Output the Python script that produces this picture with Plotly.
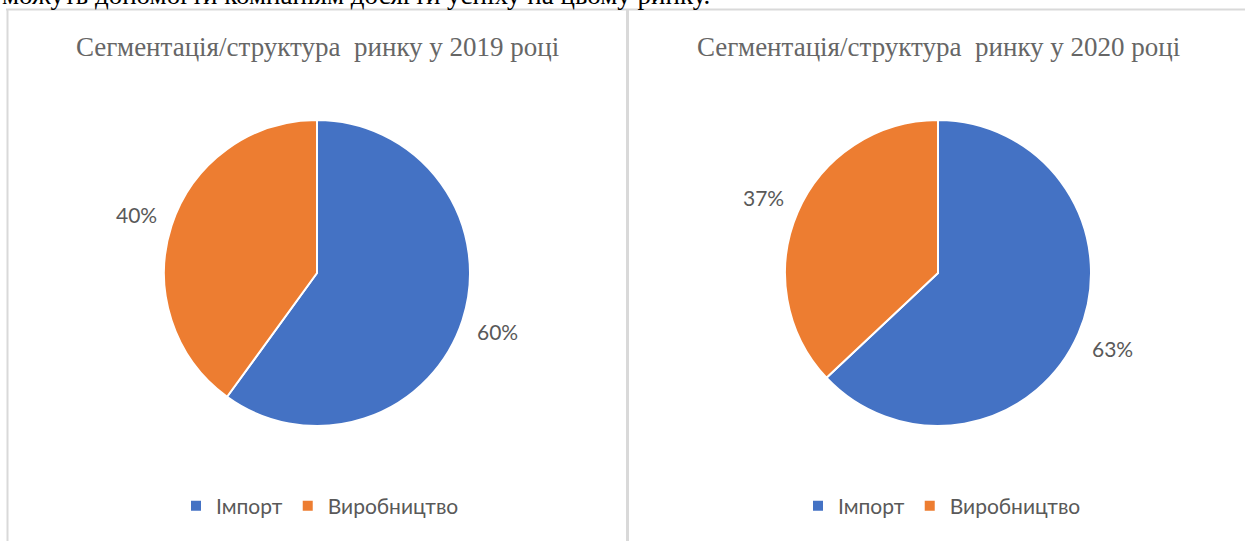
import math
import plotly.graph_objects as go

categories = ["Імпорт", "Виробництво"]
values_2019 = [60, 40]
values_2020 = [63, 37]
titles = ["Сегментація/структура  ринку у 2019 році", "Сегментація/структура  ринку у 2020 році"]
top_text = "можуть допомогти компаніям досягти успіху на цьому ринку."

W, H = 1245, 541
colors = ["#4472C4", "#ED7D31"]
R = 153
centers = [(317, 273), (938, 273)]
label_r = 190

fig = go.Figure()
annotations = []
for i, (vals, (cx, cy), title) in enumerate(zip([values_2019, values_2020], centers, titles)):
    # zero-width space suffix keeps the second pie's legend entries separate from the first
    labels = categories if i == 0 else [c + "\u200b" for c in categories]
    fig.add_trace(go.Pie(
        labels=labels, values=vals, sort=False, direction="clockwise", rotation=0,
        marker=dict(colors=colors, line=dict(color="white", width=2)),
        textinfo="none", hoverinfo="label+percent",
        domain=dict(x=[(cx - R) / W, (cx + R) / W], y=[(H - cy - R) / H, (H - cy + R) / H]),
        legend="legend" if i == 0 else "legend2",
        showlegend=True,
    ))
    total = sum(vals)
    start = 0.0
    for v in vals:
        frac = v / total
        mid = (start + frac / 2) * 2 * math.pi
        start += frac
        lx = cx + label_r * math.sin(mid)
        ly = cy - label_r * math.cos(mid)
        annotations.append(dict(
            x=lx / W, y=1 - ly / H, xref="paper", yref="paper",
            text=f"{round(frac * 100)}%", showarrow=False,
            font=dict(family="Lato", size=21, color="#595959"),
            xanchor="center", yanchor="middle",
        ))
    annotations.append(dict(
        x=cx / W, y=1 - 47 / H, xref="paper", yref="paper", text=title, showarrow=False,
        font=dict(family="Liberation Serif", size=27, color="#666666"),
        xanchor="center", yanchor="middle",
    ))

annotations.append(dict(
    x=0, y=1 - 12 / H, xref="paper", yref="paper", text=top_text, showarrow=False,
    font=dict(family="Liberation Serif", size=27, color="#000000"),
    xanchor="left", yanchor="bottom",
))

shapes = [
    dict(type="line", xref="paper", yref="paper", x0=6 / W, x1=1, y0=1 - 9.5 / H, y1=1 - 9.5 / H,
         line=dict(color="#D9D9D9", width=2)),
    dict(type="line", xref="paper", yref="paper", x0=7.5 / W, x1=7.5 / W, y0=0, y1=1 - 9.5 / H,
         line=dict(color="#D9D9D9", width=2)),
    dict(type="line", xref="paper", yref="paper", x0=627.5 / W, x1=627.5 / W, y0=0, y1=1 - 9.5 / H,
         line=dict(color="#D9D9D9", width=3)),
]

legend_style = dict(orientation="h", xanchor="center", yanchor="middle",
                    font=dict(family="Lato", size=21, color="#595959"),
                    itemwidth=30, bgcolor="rgba(0,0,0,0)")
fig.update_layout(
    width=W, height=H, margin=dict(l=0, r=0, t=0, b=0),
    paper_bgcolor="white", plot_bgcolor="white",
    annotations=annotations, shapes=shapes,
    legend=dict(x=320 / W, y=1 - 506 / H, **legend_style),
    legend2=dict(x=942 / W, y=1 - 506 / H, **legend_style),
)
fig.write_html("out.html", config={"displayModeBar": False},
               post_script="document.body.style.margin='0';document.body.style.overflow='hidden';")
